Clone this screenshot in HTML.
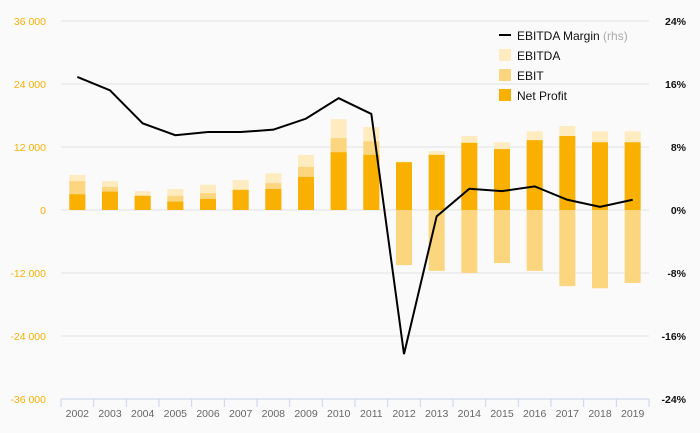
<!DOCTYPE html>
<html><head><meta charset="utf-8"><style>
body{margin:0;background:#fafafa;font-family:"Liberation Sans",sans-serif;}
svg{display:block}
</style></head><body>
<svg id="c" width="700" height="433"></svg>
<script>
const years=["2002","2003","2004","2005","2006","2007","2008","2009","2010","2011","2012","2013","2014","2015","2016","2017","2018","2019"];
const ebitda=[6.7,5.5,3.6,4.0,4.8,5.7,7.0,10.5,17.3,15.8,9.2,11.2,14.1,12.9,15.0,16.0,15.0,15.0];
const ebit=[5.5,4.4,2.7,2.7,3.2,3.9,5.1,8.2,13.7,13.1,-10.5,-11.6,-12.0,-10.1,-11.6,-14.5,-14.9,-13.9];
const netProfit=[3.0,3.5,2.7,1.6,2.1,3.8,4.0,6.3,11.0,10.5,9.1,10.5,12.8,11.6,13.3,14.1,12.9,12.9];
const margin=[16.9,15.2,11.0,9.5,9.9,9.9,10.2,11.6,14.2,12.2,-18.3,-0.8,2.7,2.4,3.0,1.3,0.4,1.3];
const leftTicks=[36000,24000,12000,0,-12000,-24000,-36000];
const rightTicks=["24%","16%","8%","0%","-8%","-16%","-24%"];
const svg=document.getElementById('c');const NS="http://www.w3.org/2000/svg";
function el(t,a,p){const e=document.createElementNS(NS,t);for(const k in a)e.setAttribute(k,a[k]);(p||svg).appendChild(e);return e;}
const x0=61,x1=649,step=(x1-x0)/years.length;
const yL=v=>210-v*5.25; // v in thousands
const yR=v=>210-v*7.875;
const xc=i=>x0+step*(i+0.5);
leftTicks.forEach((t,i)=>{const y=yL(t/1000);
 if(t!==-36000){const g=el('line',{x1:x0,x2:x1,y1:y,y2:y,stroke:'#e3e3e3','stroke-width':1});}
 const s=t===0?'0':(t<0?'-':'')+Math.abs(t/1000)+' 000';
 const a=el('text',{x:46,y:y+4,'text-anchor':'end','font-size':10.5,fill:'#f9b000'});a.textContent=s;
 const b=el('text',{x:686,y:y+4,'text-anchor':'end','font-size':10.5,'font-weight':'bold',fill:'#111'});b.textContent=rightTicks[i];
});
const bw=16;
function bars(arr,col,name){arr.forEach((v,i)=>{const y=Math.min(yL(v),yL(0));const r=el('rect',{x:xc(i)-bw/2,y:y,width:bw,height:Math.abs(yL(v)-yL(0)),fill:col});});}
bars(ebitda,'#feebc0','ebitda');bars(ebit,'#fcd67e','ebit');bars(netProfit,'#f9b000','net-profit');
const ax=el('line',{x1:x0,x2:x1,y1:399,y2:399,stroke:'#c8d4e6'});
for(let i=0;i<=years.length;i++){const t=el('line',{x1:x0+step*i,x2:x0+step*i,y1:399,y2:407,stroke:'#c8d4e6'});}
years.forEach((yv,i)=>{const t=el('text',{x:xc(i),y:417,'text-anchor':'middle','font-size':10.5,fill:'#666'});t.textContent=yv;});
const pl=el('polyline',{points:margin.map((m,i)=>xc(i)+','+yR(m)).join(' '),fill:'none',stroke:'#000','stroke-width':2});

const lg=el('g',{});
const ln=el('line',{x1:499,x2:511,y1:35,y2:35,stroke:'#000','stroke-width':2},lg);
const lt=el('text',{x:517,y:40,'font-size':12,fill:'#111'},lg);lt.innerHTML='EBITDA Margin <tspan fill="#aaa">(rhs)</tspan>';
[['EBITDA','#feebc0',55],['EBIT','#fcd67e',75],['Net Profit','#f9b000',95]].forEach(([n,c,y])=>{
 const r=el('rect',{x:499,y:y-6,width:12,height:12,fill:c},lg);
 const t=el('text',{x:517,y:y+5,'font-size':12,fill:'#111'},lg);t.textContent=n;});
</script>
</body></html>
